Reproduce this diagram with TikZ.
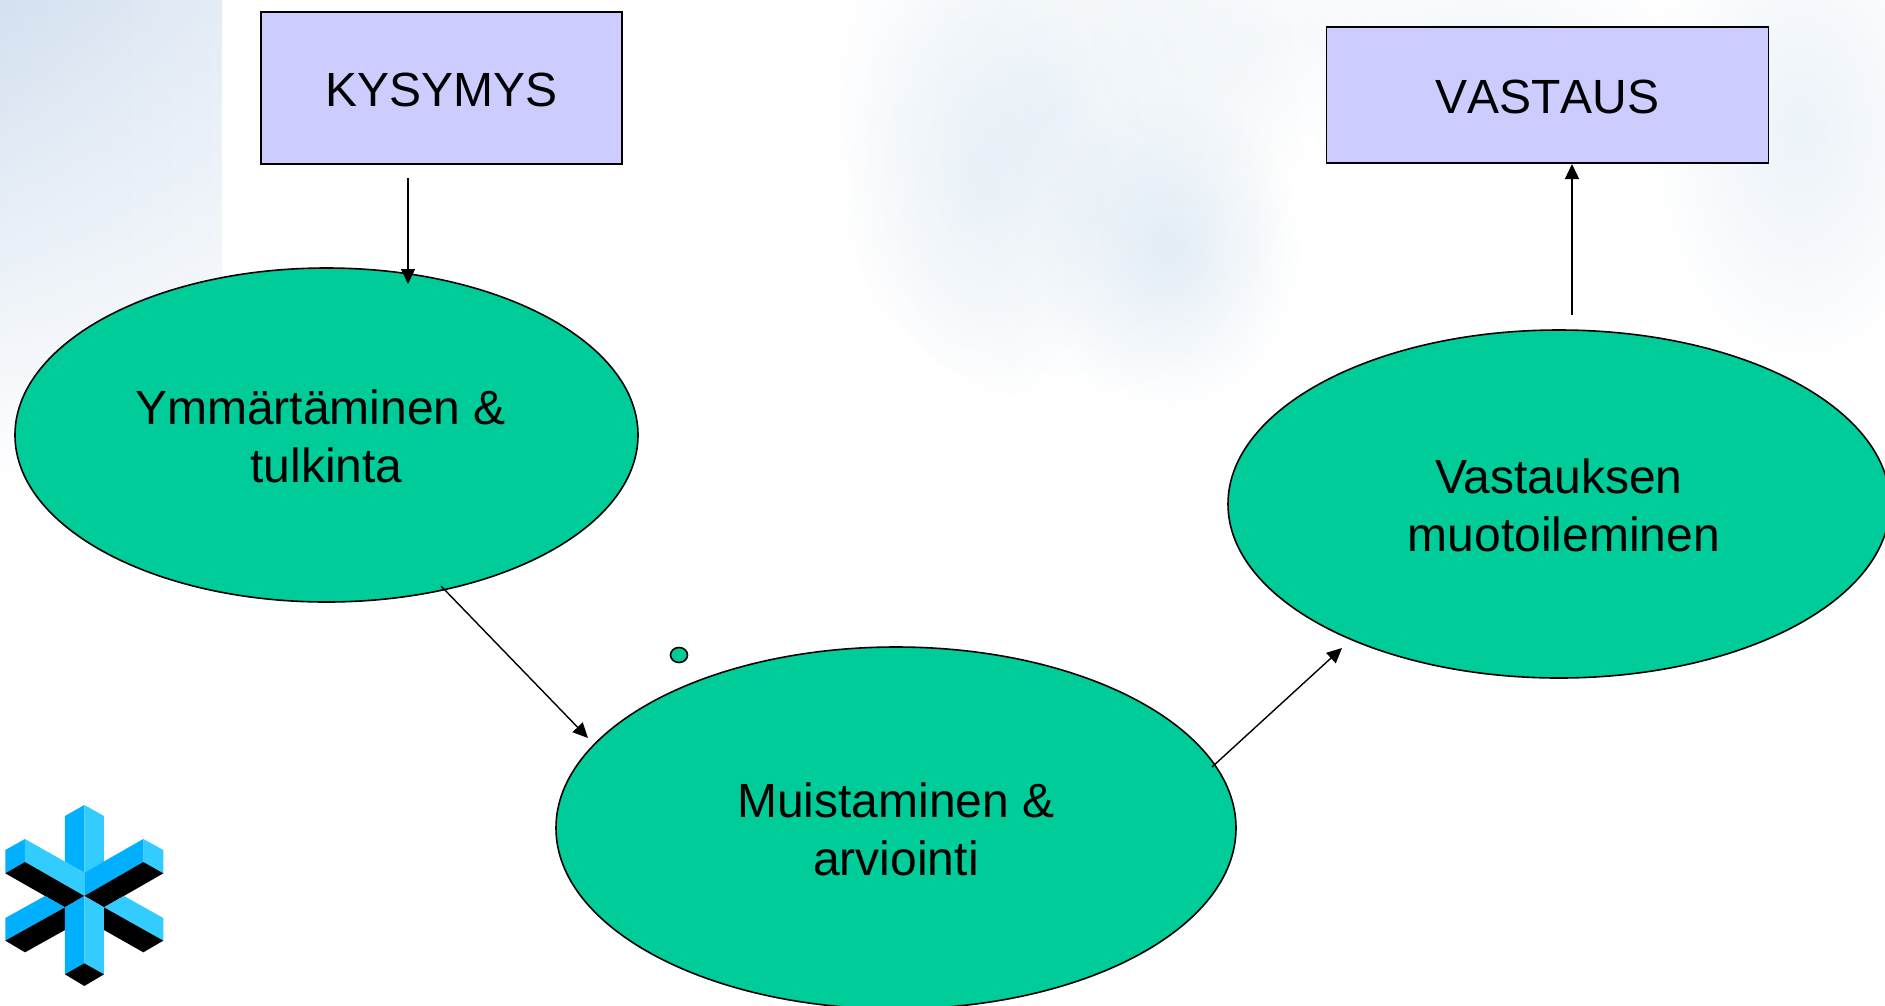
\documentclass[tikz,border=0pt]{standalone}
\usepackage{fontspec}
\setmainfont{Liberation Sans}
\usetikzlibrary{arrows.meta,shapes.geometric,fadings}
\tikzfading[name=softblob,inner color=transparent!0,outer color=transparent!100]
\tikzfading[name=fadedown,top color=transparent!0,bottom color=transparent!100]
\definecolor{wash}{RGB}{200,220,238}
\definecolor{strip}{RGB}{212,225,240}
\definecolor{stripb}{RGB}{228,236,246}
\definecolor{boxfill}{RGB}{204,204,255}
\definecolor{ovalfill}{RGB}{0,204,153}
\definecolor{logoA}{RGB}{0,176,255}
\definecolor{logoB}{RGB}{51,204,255}
\newcommand{\lift}{\rule{0pt}{38pt}}
\tikzset{
  question/.style={draw=black,line width=1.6pt,fill=boxfill,rectangle,inner sep=0pt,font=\fontsize{48}{58}\selectfont},
  oval/.style={draw=black,line width=1.6pt,fill=ovalfill,ellipse,inner sep=0pt,align=center,font=\fontsize{48}{58}\selectfont},
  link/.style={draw=black,line width=1.4pt,-{Triangle[length=15pt,width=14pt]}},
  cloud/.style={fill=wash,path fading=softblob},
  la/.style={fill=logoA},
  lb/.style={fill=logoB},
  lk/.style={fill=black}
}
\begin{document}
\begin{tikzpicture}[x=1pt,y=-1pt]
\useasboundingbox (0,0) rectangle (1885,1005);
\clip (0,0) rectangle (1885,1005);
\fill[white] (0,0) rectangle (1885,1005);
% backdrop
\shade[left color=strip,right color=stripb,path fading=fadedown] (0,0) rectangle (222,480);
\fill[cloud,opacity=.3] (1060,110) ellipse [x radius=240,y radius=290];
\fill[cloud,opacity=.45] (1170,250) ellipse [x radius=130,y radius=160];
\fill[cloud,opacity=.25] (980,180) ellipse [x radius=130,y radius=220];
\fill[cloud,opacity=.15] (1250,40) ellipse [x radius=160,y radius=130];
\fill[cloud,opacity=.35] (1800,130) ellipse [x radius=150,y radius=240];
\fill[cloud,opacity=.2] (1480,30) ellipse [x radius=200,y radius=70];
% boxes
\node[question,minimum width=361pt,minimum height=152pt] (q) at (441.5,88) {\lift KYSYMYS};
\node[question,minimum width=442pt,minimum height=136pt] (a) at (1547.5,95) {\lift\addfontfeature{Kerning=Off}VASTAUS};
% ovals
\node[oval,minimum width=623pt,minimum height=334pt] (e1) at (326.5,435) {\lift Ymmärtäminen \&\hspace*{12pt}\\tulkinta};
\node[oval,minimum width=680pt,minimum height=362pt] (e2) at (896,828) {\lift Muistaminen \&\\arviointi};
\node[oval,minimum width=662pt,minimum height=348pt] (e3) at (1559,504) {\lift Vastauksen\\\hspace*{10pt}muotoileminen};
\node[draw=black,line width=1.6pt,fill=ovalfill,ellipse,inner sep=0pt,minimum width=17pt,minimum height=15pt] (dot) at (679,655) {};
% connector ends
\coordinate (c1s) at (408,178);
\coordinate (c1e) at (408,284);
\coordinate (c2s) at (441,586);
\coordinate (c2e) at (588,738);
\coordinate (c3s) at (1212,767);
\coordinate (c3e) at (1342,648);
\coordinate (c4s) at (1572,315);
\coordinate (c4e) at (1572,164);
\draw[link] (c1s) -- (c1e);
\draw[link] (c2s) -- (c2e);
\draw[link] (c3s) -- (c3e);
\draw[link] (c4s) -- (c4e);
% logo
\begin{scope}[x=.3333pt,y=-.3333pt,yshift=-790pt]
\fill[la] (195,78)--(253,45)--(253,248)--(195,215)--cycle;
\fill[lb] (253,45)--(312,78)--(312,215)--(253,248)--cycle;
\fill[la] (16,180)--(75,147)--(75,216)--(16,250)--cycle;
\fill[lb] (75,147)--(253,248)--(253,318)--(75,216)--cycle;
\fill[lk] (16,250)--(75,216)--(253,318)--(195,352)--cycle;
\fill[lb] (430,147)--(490,180)--(490,250)--(430,216)--cycle;
\fill[la] (253,248)--(430,147)--(430,216)--(253,318)--cycle;
\fill[lk] (430,216)--(490,250)--(312,352)--(253,318)--cycle;
\fill[la] (16,384)--(135,318)--(195,352)--(16,452)--cycle;
\fill[lk] (16,452)--(195,352)--(195,420)--(75,487)--cycle;
\fill[lb] (372,318)--(490,384)--(490,452)--(312,352)--cycle;
\fill[lk] (312,352)--(490,452)--(430,487)--(312,420)--cycle;
\fill[la] (195,352)--(253,318)--(253,520)--(195,553)--cycle;
\fill[lb] (253,318)--(312,352)--(312,553)--(253,520)--cycle;
\fill[lk] (195,553)--(253,520)--(312,553)--(253,588)--cycle;
\end{scope}
\end{tikzpicture}
\end{document}
